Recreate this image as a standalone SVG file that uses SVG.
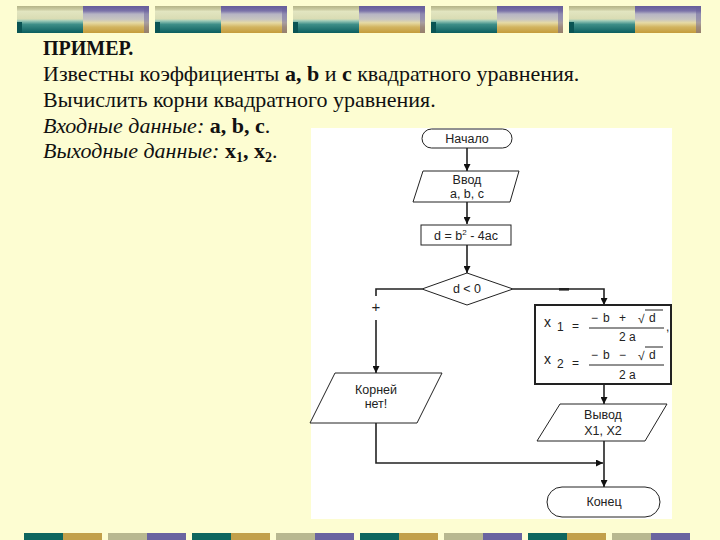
<svg xmlns="http://www.w3.org/2000/svg" width="720" height="540" viewBox="0 0 720 540">
<defs>
<linearGradient id="gL" x1="0" y1="0" x2="0" y2="1">
<stop offset="0" stop-color="#b4b488"/>
<stop offset="0.12" stop-color="#c9caa0"/>
<stop offset="0.2" stop-color="#e2e5c0"/>
<stop offset="0.48" stop-color="#d9dcb4"/>
<stop offset="0.55" stop-color="#9ccab8"/>
<stop offset="0.68" stop-color="#3e8e88"/>
<stop offset="1" stop-color="#0b5e5e"/>
</linearGradient>
<linearGradient id="gR" x1="0" y1="0" x2="0" y2="1">
<stop offset="0" stop-color="#655c9a"/>
<stop offset="0.18" stop-color="#7a72a8"/>
<stop offset="0.3" stop-color="#b6b4c4"/>
<stop offset="0.5" stop-color="#c8c6c0"/>
<stop offset="0.62" stop-color="#e6daa4"/>
<stop offset="0.78" stop-color="#d2b460"/>
<stop offset="1" stop-color="#c49c3c"/>
</linearGradient>
<g id="topblk">
<rect x="0" y="0" width="66" height="27" fill="url(#gL)"/>
<rect x="0" y="16" width="5" height="11" fill="#0a5454"/>
<rect x="66" y="0" width="66" height="27" fill="url(#gR)"/>
<rect x="127" y="0" width="5" height="27" fill="#6a629c" opacity="0.5"/>
</g>
<g id="botA">
<rect x="0" y="0" width="39" height="7" fill="#0e665e"/>
<rect x="39" y="0" width="39" height="7" fill="#c2a04a"/>
</g>
<g id="botB">
<rect x="0" y="0" width="39" height="7" fill="#b8b890"/>
<rect x="39" y="0" width="39" height="7" fill="#6a64a0"/>
</g>
<marker id="ah" viewBox="0 0 10 10" refX="10" refY="5" markerWidth="7" markerHeight="7" markerUnits="userSpaceOnUse" orient="auto">
<path d="M0,0 L10,5 L0,10 z" fill="#111"/>
</marker>
</defs>
<style>
.t{font-family:"Liberation Serif","Times New Roman",serif;font-size:22px;fill:#111}
.h{font-family:"Liberation Serif","Times New Roman",serif;font-size:20px;font-weight:bold;fill:#111}
.f{font-family:"Liberation Sans",Arial,sans-serif;font-size:12.5px;fill:#222;text-anchor:middle}
.fm{font-family:"Liberation Sans",Arial,sans-serif;font-size:12px;fill:#222}
.fx{font-family:"Liberation Sans",Arial,sans-serif;font-size:14px;fill:#222}
.fs{font-family:"Liberation Sans",Arial,sans-serif;font-size:12px;fill:#222}
.sh{fill:#fff;stroke:#222;stroke-width:1}
.cn{fill:none;stroke:#222;stroke-width:1.6}
.ca{fill:none;stroke:#222;stroke-width:1.6;marker-end:url(#ah)}
.fl{stroke:#222;stroke-width:1}
</style>
<rect x="0" y="0" width="720" height="540" fill="#fdfdd2"/>
<!-- top decorative bar -->
<use href="#topblk" x="17" y="6"/>
<use href="#topblk" x="155" y="6"/>
<use href="#topblk" x="293" y="6"/>
<use href="#topblk" x="431" y="6"/>
<use href="#topblk" x="569" y="6"/>
<!-- bottom decorative bar -->
<use href="#botA" x="24" y="533"/>
<use href="#botB" x="108" y="533"/>
<use href="#botA" x="192" y="533"/>
<use href="#botB" x="276" y="533"/>
<use href="#botA" x="360" y="533"/>
<use href="#botB" x="444" y="533"/>
<use href="#botA" x="528" y="533"/>
<use href="#botB" x="612" y="533"/>
<!-- text -->
<text class="h" x="43" y="55">ПРИМЕР.</text>
<text class="t" x="43" y="81">Известны коэффициенты <tspan font-weight="bold">a, b</tspan> и <tspan font-weight="bold">c</tspan> квадратного уравнения.</text>
<text class="t" x="43" y="107">Вычислить корни квадратного уравнения.</text>
<text class="t" x="43" y="133"><tspan font-style="italic">Входные данные:</tspan> <tspan font-weight="bold">a, b, c</tspan>.</text>
<text class="t" x="43" y="158"><tspan font-style="italic">Выходные данные:</tspan> <tspan font-weight="bold">x<tspan style="font-size:14px" dy="4">1</tspan><tspan dy="-4">, x</tspan><tspan style="font-size:14px" dy="4">2</tspan></tspan><tspan dy="-4">.</tspan></text>
<!-- flowchart panel -->
<rect x="311" y="128" width="361" height="391" fill="#ffffff"/>
<g id="connectors">
<line class="ca" x1="467" y1="148" x2="467" y2="171"/>
<line class="ca" x1="467" y1="202" x2="467" y2="224"/>
<line class="ca" x1="467" y1="245" x2="467" y2="273"/>
<path class="cn" d="M422,289 H376 V296"/>
<path class="ca" d="M376,320 V373"/>
<path class="ca" d="M513,289 H604 V305"/>
<line class="ca" x1="604" y1="385" x2="604" y2="404"/>
<line class="ca" x1="604" y1="441" x2="604" y2="487"/>
<path class="ca" d="M376,423 V463 H603"/>
<text class="f" x="376" y="312" style="font-size:15px">+</text>
<rect x="559" y="288" width="10" height="2.6" fill="#222"/>
</g>
<g id="start">
<rect class="sh" x="422" y="129" width="90" height="19" rx="9.5"/>
<text class="f" x="467" y="143">Начало</text>
</g>
<g id="input">
<polygon class="sh" points="423,171 519,171 510,202 413,202"/>
<text class="f" x="467" y="184">Ввод</text>
<text class="f" x="467" y="198">a, b, c</text>
</g>
<g id="calc_d">
<rect class="sh" x="421" y="225" width="90" height="20"/>
<text class="f" x="466" y="240">d = b<tspan style="font-size:8px" dy="-5">2</tspan><tspan dy="5"> - 4ac</tspan></text>
</g>
<g id="decision">
<polygon class="sh" points="467,273 513,289 467,305 422,289"/>
<text class="f" x="467" y="293">d &lt; 0</text>
</g>
<g id="formula">
<rect x="535" y="305" width="136" height="79" fill="#fff" stroke="#222" stroke-width="2"/>
<text class="fx" x="544" y="327">x</text>
<text class="fs" x="557" y="331">1</text>
<text class="fm" x="572" y="330">=</text>
<text class="fm" x="591" y="322">−</text>
<text class="fm" x="603" y="322">b</text>
<text class="fm" x="619" y="322">+</text>
<text class="fm" x="638" y="323">√</text>
<line class="fl" x1="645" y1="310" x2="663" y2="310"/>
<text class="fm" x="649" y="322">d</text>
<line class="fl" x1="589" y1="328" x2="664" y2="328"/>
<text class="fm" x="619" y="341">2 a</text>
<text class="fm" x="666" y="331">,</text>
<text class="fx" x="544" y="364">x</text>
<text class="fs" x="557" y="368">2</text>
<text class="fm" x="572" y="367">=</text>
<text class="fm" x="591" y="359">−</text>
<text class="fm" x="603" y="359">b</text>
<text class="fm" x="619" y="359">−</text>
<text class="fm" x="638" y="360">√</text>
<line class="fl" x1="645" y1="347" x2="663" y2="347"/>
<text class="fm" x="649" y="359">d</text>
<line class="fl" x1="589" y1="365" x2="664" y2="365"/>
<text class="fm" x="619" y="379">2 a</text>
</g>
<g id="no_roots">
<polygon class="sh" points="335,373 442,373 417,423 310,423"/>
<text class="f" x="376" y="394">Корней</text>
<text class="f" x="376" y="408">нет!</text>
</g>
<g id="output">
<polygon class="sh" points="560,404 667,404 645,441 537,441"/>
<text class="f" x="603" y="419">Вывод</text>
<text class="f" x="603" y="435">X1, X2</text>
</g>
<g id="end">
<rect class="sh" x="547" y="487" width="113" height="30" rx="15"/>
<text class="f" x="604" y="506">Конец</text>
</g>
</svg>
